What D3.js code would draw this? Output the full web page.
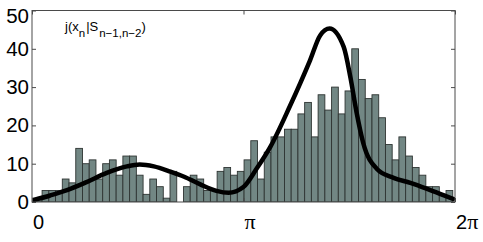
<!DOCTYPE html>
<html>
<head>
<meta charset="utf-8">
<script src="https://cdn.jsdelivr.net/npm/d3@7"></script>
<style>
  html, body { margin: 0; padding: 0; background: #fff; }
  svg { display: block; }
</style>
</head>
<body>
<svg id="chart" width="483" height="242"></svg>
<script>
// ---- data ----
const binWidth = 0.1; // radians, bins centred at 0, 0.1, ..., 6.2
const counts = [1, 1, 3, 3, 3, 6, 5, 14, 10, 11, 6, 10, 11, 7, 12, 12, 7, 2, 6, 4,
                1, 8, 0, 4, 7, 6, 3, 3, 8, 9, 7, 8, 11, 16, 6, 13, 17, 17, 19, 19,
                23, 26, 17, 28, 24, 30, 23, 29, 40, 32, 27, 28, 22, 15, 11, 17, 12, 9, 7, 4,
                4, 2, 3];
const curveX = [0.0, 0.27, 0.52, 0.81, 1.11, 1.41, 1.60, 1.81, 2.06, 2.26, 2.50, 2.74, 2.92,
                3.14, 3.34, 3.54, 3.83, 4.13, 4.28, 4.42, 4.63, 4.73, 4.82, 4.92, 5.12, 5.37,
                5.62, 5.86, 6.11, 6.283];
const curveY = [0.4, 1.7, 3.1, 5.2, 7.6, 9.3, 9.8, 9.3, 7.9, 6.6, 4.6, 2.9, 2.4,
                3.9, 8.8, 14.4, 25, 37, 43.5, 45.3, 40.5, 32.5, 23.5, 15.4, 8.7, 6.3,
                5.0, 3.5, 1.8, 0.6];
const yTicks = [0, 10, 20, 30, 40, 50];
const xTicks = [0, Math.PI, 2 * Math.PI];
const xTickLabels = [["0", ""], ["", "π"], ["2", "π"]];
const labelMain = ["j(x", "|S", ")"];
const labelSubs = ["n", "n−1,n−2"];

// ---- layout ----
const svg = d3.select("#chart");
const L = 32, R = 455, T = 10.5, B = 202;
const x = d3.scaleLinear().domain([0, 2 * Math.PI]).range([L, R]);
const y = d3.scaleLinear().domain([0, 50]).range([B, T]);
const axisColor = "#4a4a4a";
const sans = "Liberation Sans, Arial, sans-serif";

svg.append("defs").append("clipPath").attr("id", "plotclip")
  .append("rect").attr("x", L).attr("y", T).attr("width", R - L).attr("height", B - T);

// bars
svg.append("g").attr("clip-path", "url(#plotclip)")
  .selectAll("rect").data(counts).join("rect")
  .attr("x", (d, i) => x(i * binWidth - binWidth / 2))
  .attr("width", (d, i) => x(i * binWidth + binWidth / 2) - x(i * binWidth - binWidth / 2))
  .attr("y", d => y(d))
  .attr("height", d => B - y(d))
  .attr("fill", "#728784")
  .attr("stroke", "#2e3432")
  .attr("stroke-width", 0.9);

// curve
const line = d3.line().x((d, i) => x(curveX[i])).y(d => y(d)).curve(d3.curveMonotoneX);
svg.append("path").datum(curveY)
  .attr("d", line)
  .attr("fill", "none")
  .attr("stroke", "#000")
  .attr("stroke-width", 4.5)
  .attr("stroke-linejoin", "round")
  .attr("clip-path", "url(#plotclip)");

// axes
const gl = svg.append("g").attr("transform", `translate(${L},0)`)
  .call(d3.axisLeft(y).tickValues(yTicks).tickSizeInner(-4).tickSizeOuter(0).tickPadding(3));
gl.select(".domain").remove();
gl.selectAll("line").attr("stroke", axisColor);
gl.selectAll("text").attr("font-family", sans)
  .attr("font-size", 20.5).attr("fill", "#000");
gl.selectAll(".tick").filter(d => d === 50).select("text").attr("dy", "0.6em");

const gr = svg.append("g").attr("transform", `translate(${R},0)`)
  .call(d3.axisRight(y).tickValues(yTicks).tickSizeInner(-4).tickSizeOuter(0).tickFormat(""));
gr.select(".domain").remove();
gr.selectAll("line").attr("stroke", axisColor);

const gt = svg.append("g").attr("transform", `translate(0,${T})`)
  .call(d3.axisTop(x).tickValues(xTicks).tickSizeInner(-4).tickSizeOuter(0).tickFormat(""));
gt.select(".domain").remove();
gt.selectAll("line").attr("stroke", axisColor);

const gb = svg.append("g").attr("transform", `translate(0,${B})`)
  .call(d3.axisBottom(x).tickValues(xTicks).tickSizeInner(-4).tickSizeOuter(0).tickPadding(13).tickFormat(""));
gb.select(".domain").remove();
gb.selectAll("line").attr("stroke", axisColor);
gb.selectAll(".tick text").each(function(d, i) {
  const t = d3.select(this).attr("text-anchor", "start").attr("x", 0.5).attr("font-size", 20).attr("fill", "#000");
  const [a, b] = xTickLabels[i];
  if (a) t.append("tspan").attr("font-family", sans).text(a);
  if (b) t.append("tspan").attr("font-family", "Liberation Serif, Times New Roman, serif").attr("font-size", 22).text(b);
});

// frame
svg.append("rect").attr("x", L).attr("y", T).attr("width", R - L).attr("height", B - T)
  .attr("fill", "none").attr("stroke", axisColor).attr("stroke-width", 1);

// label
const lab = svg.append("text").attr("x", 65).attr("y", 31)
  .attr("font-family", sans).attr("font-size", 13).attr("fill", "#000");
lab.append("tspan").text(labelMain[0]);
lab.append("tspan").attr("font-size", 11.5).attr("dy", 6).text(labelSubs[0]);
lab.append("tspan").attr("dy", -6).attr("dx", 1).text(labelMain[1]);
lab.append("tspan").attr("font-size", 11.5).attr("dy", 6).attr("dx", 1).text(labelSubs[1]);
lab.append("tspan").attr("dy", -6).text(labelMain[2]);
</script>
</body>
</html>
